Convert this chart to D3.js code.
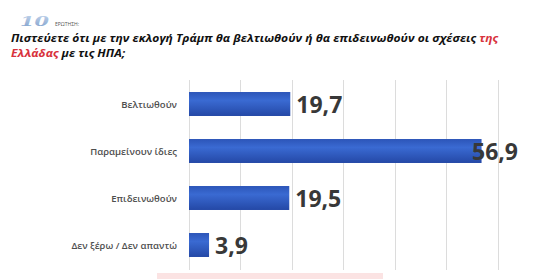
<!DOCTYPE html>
<html lang="el">
<head>
<meta charset="UTF-8">
<script src="https://d3js.org/d3.v7.min.js"></script>
<style>
  body { margin: 0; background: #fff; }
  svg { display: block; }
</style>
</head>
<body>
<script>
const categories = ["Βελτιωθούν", "Παραμείνουν ίδιες", "Επιδεινωθούν", "Δεν ξέρω / Δεν απαντώ"];
const values = [19.7, 56.9, 19.5, 3.9];
const valueLabels = ["19,7", "56,9", "19,5", "3,9"];
const gridTicks = [0, 10, 20, 30, 40, 50, 60];

const W = 534, H = 279;
const svg = d3.select("body").append("svg").attr("width", W).attr("height", H);

// bar gradient
const defs = svg.append("defs");
const grad = defs.append("linearGradient")
  .attr("id", "barGrad").attr("x1", 0).attr("y1", 0).attr("x2", 0).attr("y2", 1);
grad.append("stop").attr("offset", "0%").attr("stop-color", "#2c55b8");
grad.append("stop").attr("offset", "35%").attr("stop-color", "#3a6ad2");
grad.append("stop").attr("offset", "100%").attr("stop-color", "#2448a6");

const numGrad = defs.append("linearGradient")
  .attr("id", "numGrad").attr("x1", 0).attr("y1", 0).attr("x2", 0).attr("y2", 1);
numGrad.append("stop").attr("offset", "0%").attr("stop-color", "#c3d5ec");
numGrad.append("stop").attr("offset", "100%").attr("stop-color", "#7e9fcb");

// header
svg.append("text")
  .attr("x", 0).attr("y", 0)
  .attr("transform", "translate(20,26) scale(1.6,1)")
  .style("font-family", "'DejaVu Serif', serif")
  .style("font-size", "13px").style("font-weight", "bold").style("font-style", "italic")
  .style("fill", "url(#numGrad)")
  .text("10");
svg.append("text")
  .attr("x", 55).attr("y", 26)
  .style("font-family", "'Open Sans', sans-serif")
  .style("font-size", "5px").style("fill", "#555")
  .text("ΕΡΩΤΗΣΗ:");

const q1 = svg.append("text")
  .attr("x", 11).attr("y", 42)
  .style("font-family", "'Open Sans', sans-serif")
  .style("font-size", "11px").style("font-weight", "bold").style("font-style", "italic")
  .style("fill", "#111");
q1.append("tspan").text("Πιστεύετε ότι με την εκλογή Τράμπ θα βελτιωθούν ή θα επιδεινωθούν οι σχέσεις ");
q1.append("tspan").style("fill", "#d8323c").text("της");

const q2 = svg.append("text")
  .attr("x", 11).attr("y", 57)
  .style("font-family", "'Open Sans', sans-serif")
  .style("font-size", "11px").style("font-weight", "bold").style("font-style", "italic")
  .style("fill", "#111");
q2.append("tspan").style("fill", "#d8323c").text("Ελλάδας");
q2.append("tspan").text(" με τις ΗΠΑ;");

// squeeze the first line to the width seen in the picture
const w1 = q1.node().getComputedTextLength();
const k = 488 / w1;
q1.attr("transform", `translate(11,0) scale(${k},1) translate(-11,0)`);
q2.attr("transform", `translate(11,0) scale(${k},1) translate(-11,0)`);

// scales
const x = d3.scaleLinear().domain([0, 60]).range([189, 497.5]);
const y = d3.scaleBand().domain(categories).range([80.5, 268.5])
  .paddingInner(0.49).paddingOuter(0.245);

// gridlines
svg.append("g").selectAll("line")
  .data(gridTicks).join("line")
  .attr("x1", d => Math.round(x(d)) + 0.5).attr("x2", d => Math.round(x(d)) + 0.5)
  .attr("y1", 80).attr("y2", 270)
  .attr("stroke", "#dcdcdc").attr("stroke-width", 1);

// category labels
svg.append("g").selectAll("text")
  .data(categories).join("text")
  .attr("x", 177)
  .attr("y", d => y(d) + y.bandwidth() / 2 + 3.5)
  .attr("text-anchor", "end")
  .style("font-family", "'Open Sans', sans-serif")
  .style("font-size", "9.5px").style("font-weight", "600")
  .style("fill", "#4e4e4e")
  .text(d => d);

// bars
svg.append("g").selectAll("rect")
  .data(values).join("rect")
  .attr("x", x(0))
  .attr("y", (d, i) => y(categories[i]))
  .attr("width", d => x(d) - x(0))
  .attr("height", y.bandwidth())
  .attr("fill", "url(#barGrad)");

// value labels
svg.append("g").selectAll("text")
  .data(values).join("text")
  .attr("x", d => Math.min(x(d) + 6, 472))
  .attr("y", (d, i) => y(categories[i]) + y.bandwidth() / 2 + 8.5)
  .style("font-family", "'Open Sans', sans-serif")
  .style("font-size", "23px").style("font-weight", "bold")
  .style("fill", "#383838")
  .text((d, i) => valueLabels[i]);

// pink strip at bottom edge
svg.append("rect")
  .attr("x", 157).attr("y", 273).attr("width", 226).attr("height", 6)
  .attr("fill", "#fbe3e3");
</script>
</body>
</html>
